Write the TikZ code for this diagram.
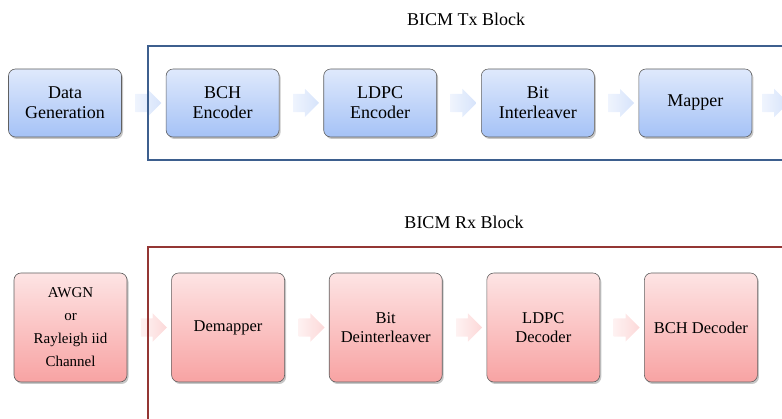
\documentclass[tikz,border=0pt]{standalone}
\usepackage{fontspec}
\setmainfont{Liberation Serif}
\usetikzlibrary{arrows.meta, positioning, shapes.arrows, shadows, calc}

\definecolor{txframe}{HTML}{3D5F8E}
\definecolor{rxframe}{HTML}{943634}
\definecolor{txtop}{HTML}{DFE9FC}
\definecolor{txbot}{HTML}{A5C2F6}
\definecolor{rxtop}{HTML}{FDE4E4}
\definecolor{rxbot}{HTML}{F8A3A3}

\begin{document}
\begin{tikzpicture}[x=1pt, y=-1pt,
    block/.style={draw=gray!75!black, line width=0.6pt, rounded corners=7pt,
        minimum width=113pt, align=center, inner sep=0pt,
        drop shadow={fill=black!22, opacity=1, shadow xshift=1.5pt, shadow yshift=-2pt}},
    txblock/.style={block, minimum height=68pt, top color=txtop, bottom color=txbot,
        font=\fontsize{18}{20}\selectfont},
    rxblock/.style={block, minimum height=109pt, top color=rxtop, bottom color=rxbot,
        font=\fontsize{16.5}{18.5}\selectfont},
    flow/.style={single arrow, single arrow head extend=5pt, minimum height=26pt,
        minimum width=28pt, inner xsep=0pt, inner ysep=9pt},
    txflow/.style={flow, left color=txtop!50, right color=txbot!45},
    rxflow/.style={flow, left color=rxtop!50, right color=rxbot!42},
    title/.style={font=\fontsize{18}{20}\selectfont}]
    \useasboundingbox (0,0) rectangle (782,419);
    \clip (0,0) rectangle (782,419);

    % Tx chain
    \node[txblock] (gen) at (65,103) {Data\\Generation};
    \node[txblock, right=44pt of gen] (bchenc) {BCH\\Encoder};
    \node[txblock, right=44pt of bchenc] (ldpcenc) {LDPC\\Encoder};
    \node[txblock, right=44pt of ldpcenc] (intl) {Bit\\Interleaver};
    \node[txblock, right=44pt of intl] (mapper) {Mapper};

    \node[txflow] (t1) at ($(gen.east)!0.5!(bchenc.west)$) {};
    \node[txflow] (t2) at ($(bchenc.east)!0.5!(ldpcenc.west)$) {};
    \node[txflow] (t3) at ($(ldpcenc.east)!0.5!(intl.west)$) {};
    \node[txflow] (t4) at ($(intl.east)!0.5!(mapper.west)$) {};
    \node[txflow, right=10pt of mapper] (t5) {};

    % Rx chain
    \node[rxblock, font=\fontsize{15}{23}\selectfont] (chan) at (70.5,327.5)
        {AWGN\\or\\Rayleigh iid\\Channel};
    \node[rxblock, right=44pt of chan] (demap) {Demapper};
    \node[rxblock, right=44pt of demap] (deintl) {Bit\\Deinterleaver};
    \node[rxblock, right=44pt of deintl] (ldpcdec) {LDPC\\Decoder};
    \node[rxblock, right=44pt of ldpcdec] (bchdec) {BCH Decoder};

    \node[rxflow] (r1) at ($(chan.east)!0.5!(demap.west)$) {};
    \node[rxflow] (r2) at ($(demap.east)!0.5!(deintl.west)$) {};
    \node[rxflow] (r3) at ($(deintl.east)!0.5!(ldpcdec.west)$) {};
    \node[rxflow] (r4) at ($(ldpcdec.east)!0.5!(bchdec.west)$) {};

    % Block frames
    \draw[txframe, line width=2.5pt] (800,46) -- (148,46) -- (148,160) -- (800,160);
    \draw[rxframe, line width=2.5pt] (800,247) -- (148,247) -- (148,440);

    \node[title] (txlabel) at (466,19) {BICM Tx Block};
    \node[title] (rxlabel) at (464,222) {BICM Rx Block};
\end{tikzpicture}
\end{document}
